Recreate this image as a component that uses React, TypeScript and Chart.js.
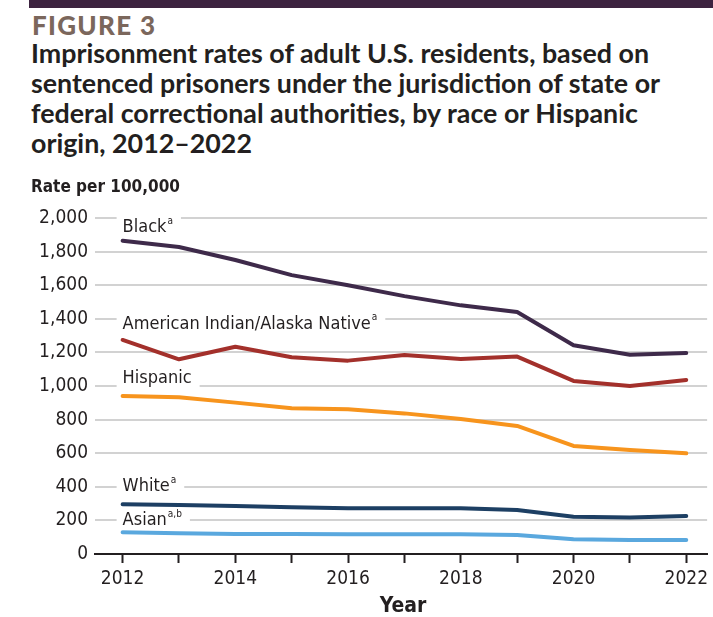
import React, { useEffect, useRef } from "react";
import { Chart, registerables } from "chart.js";

Chart.register(...registerables);

const years = [2012, 2013, 2014, 2015, 2016, 2017, 2018, 2019, 2020, 2021, 2022];
const black = [1865, 1827, 1750, 1660, 1600, 1535, 1480, 1440, 1242, 1186, 1196];
const aian = [1274, 1159, 1234, 1171, 1151, 1185, 1161, 1175, 1030, 1000, 1036];
const hispanic = [940, 933, 901, 867, 861, 837, 804, 762, 643, 619, 599];
const white = [296, 292, 286, 278, 272, 272, 272, 262, 222, 218, 226];
const asian = [129, 123, 119, 119, 117, 117, 117, 113, 88, 83, 83];

const seriesNames = ["Black", "American Indian/Alaska Native", "Hispanic", "White", "Asian"];
const seriesNotes = ["a", "a", "", "a", "a,b"];
const labelAnchors = [1945, 1370, 1048, 400, 202];
const yTicks = [0, 200, 400, 600, 800, 1000, 1200, 1400, 1600, 1800, 2000];

const COND = '"DejaVu Sans Condensed", "Liberation Sans Narrow", Roboto, sans-serif';
const INK = "#231f20";

const labelPlugin = {
  id: "seriesLabels",
  afterDraw(chart: any) {
    const ctx = chart.ctx;
    const xs = chart.scales.x;
    const ys = chart.scales.y;
    ctx.save();
    ctx.fillStyle = INK;
    ctx.textBaseline = "middle";
    ctx.textAlign = "left";
    ctx.font = `bold 17px ${COND}`;
    ctx.fillText("Rate per 100,000", 31, ys.getPixelForValue(2000) - 30);
    ctx.textAlign = "center";
    ctx.font = `bold 21px ${COND}`;
    ctx.fillText("Year", (xs.left + xs.right) / 2 + 2, 607);
    ctx.textAlign = "left";
    seriesNames.forEach((name, i) => {
      const x = xs.getPixelForValue(years[0]);
      const y = ys.getPixelForValue(labelAnchors[i]);
      ctx.font = `18px ${COND}`;
      const w1 = ctx.measureText(name).width;
      ctx.font = `10px ${COND}`;
      const w2 = seriesNotes[i] ? ctx.measureText(seriesNotes[i]).width + 1 : 0;
      ctx.fillStyle = "#ffffff";
      ctx.fillRect(x - 6, y - 11, w1 + w2 + 14, 21);
      ctx.fillStyle = INK;
      ctx.font = `18px ${COND}`;
      ctx.fillText(name, x, y);
      if (seriesNotes[i]) {
        ctx.font = `10px ${COND}`;
        ctx.fillText(seriesNotes[i], x + w1 + 1, y - 6);
      }
    });
    ctx.restore();
  },
};

export default function App() {
  const ref = useRef<HTMLCanvasElement>(null);
  useEffect(() => {
    if (!ref.current) return;
    const mk = (label: string, data: number[], color: string) => ({
      label,
      data: data.map((v, i) => ({ x: years[i], y: v })),
      borderColor: color,
      backgroundColor: color,
      borderWidth: 4,
      pointRadius: 0,
      tension: 0,
      borderJoinStyle: "round",
      borderCapStyle: "round",
    });
    const chart = new Chart(ref.current, {
      type: "line",
      data: {
        datasets: [
          mk(seriesNames[0], black, "#3e2a4a"),
          mk(seriesNames[1], aian, "#a3302b"),
          mk(seriesNames[2], hispanic, "#f7941d"),
          mk(seriesNames[3], white, "#1d3f63"),
          mk(seriesNames[4], asian, "#5aa8de"),
        ] as any,
      },
      options: {
        animation: false,
        responsive: false,
        maintainAspectRatio: false,
        layout: { padding: { top: 218, left: 0, right: 0, bottom: 0 } },
        plugins: { legend: { display: false }, tooltip: { enabled: false }, title: { display: false } },
        scales: {
          x: {
            type: "linear",
            min: 2011.51,
            max: 2022.37,
            afterBuildTicks: (s: any) => {
              s.ticks = years.map((v) => ({ value: v }));
            },
            afterFit: (s: any) => {
              s.height = 63;
            },
            grid: { drawOnChartArea: false, drawTicks: true, tickLength: 9, tickColor: INK, tickWidth: 2 },
            border: { display: true, color: INK, width: 2 },
            ticks: {
              padding: 5,
              color: INK,
              font: { family: COND, size: 19 },
              maxRotation: 0,
              autoSkip: false,
              callback: (v: any) => (Number(v) % 2 === 0 ? String(v) : ""),
            },
          },
          y: {
            min: 0,
            max: 2000,
            afterBuildTicks: (s: any) => {
              s.ticks = yTicks.map((v) => ({ value: v }));
            },
            afterFit: (s: any) => {
              s.width = 95;
            },
            grid: { color: "#d2d2d2", lineWidth: 2, drawTicks: false },
            border: { display: false },
            ticks: {
              padding: 7,
              color: INK,
              font: { family: COND, size: 19 },
              callback: (v: any) => Number(v).toLocaleString("en-US"),
            },
          },
        },
      },
      plugins: [labelPlugin],
    } as any);
    return () => chart.destroy();
  }, []);

  return (
    <div style={{ position: "absolute", left: 0, top: 0, width: 713, height: 617, background: "#fff", overflow: "hidden" }}>
      <div style={{ position: "absolute", left: 29, top: 0, width: 684, height: 8, background: "#3d2340" }} />
      <div
        style={{
          position: "absolute",
          left: 32,
          top: 11,
          fontFamily: "Lato, sans-serif",
          fontWeight: 900,
          fontSize: 26,
          letterSpacing: 1.3,
          color: "#7b675c",
          lineHeight: "28px",
        }}
      >
        FIGURE 3
      </div>
      <div
        style={{
          position: "absolute",
          left: 31,
          top: 38,
          width: 682,
          whiteSpace: "nowrap",
          fontFamily: "Lato, sans-serif",
          fontWeight: 700,
          fontSize: 26.8,
          color: INK,
          lineHeight: "30px",
        }}
      >
        Imprisonment rates of adult U.S. residents, based on
        <br />
        sentenced prisoners under the jurisdiction of state or
        <br />
        federal correctional authorities, by race or Hispanic
        <br />
        origin, 2012–2022
      </div>
      <canvas ref={ref} width={713} height={617} style={{ position: "absolute", left: 0, top: 0, width: 713, height: 617 }} />
    </div>
  );
}
